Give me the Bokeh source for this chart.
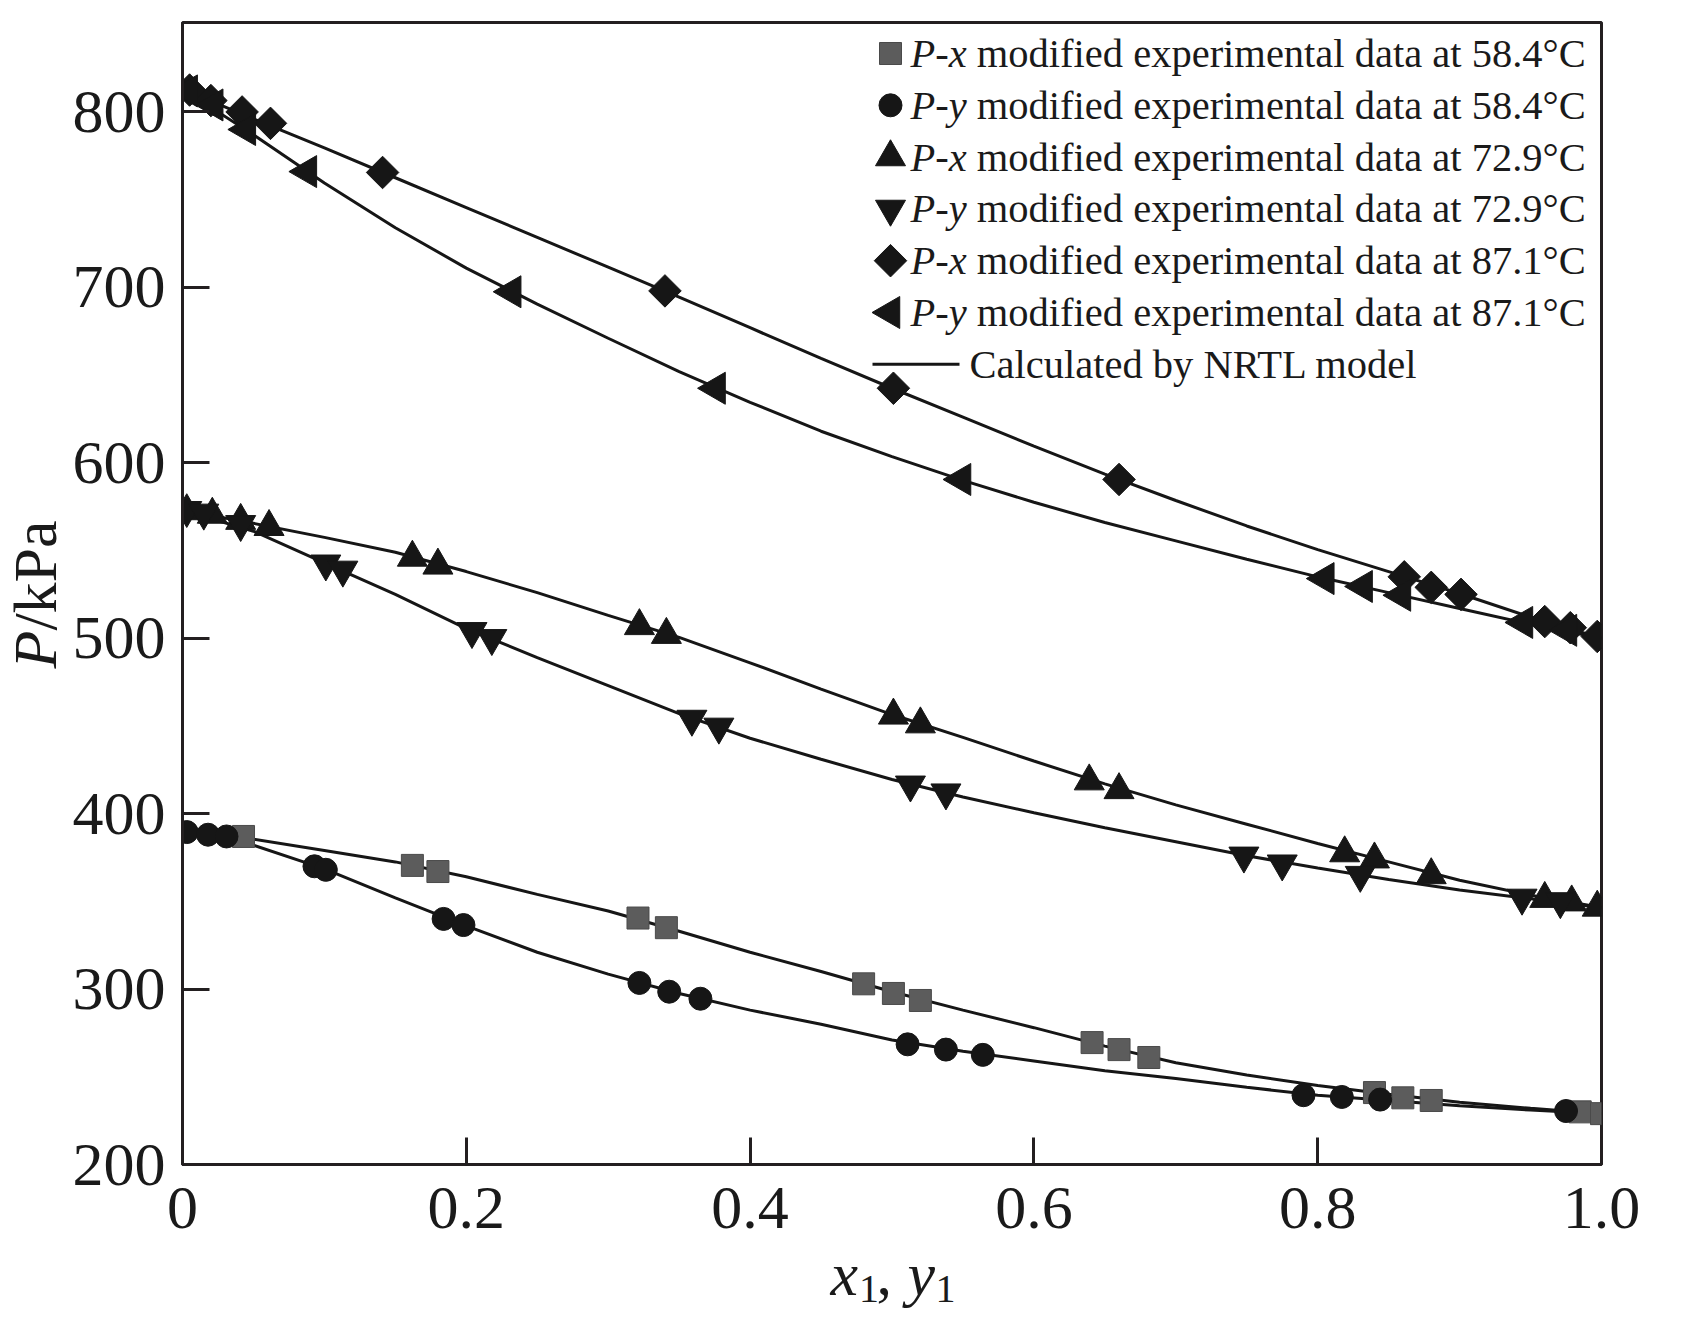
import numpy as np
from bokeh.plotting import figure
from bokeh.models import Range1d, FixedTicker, Label
from bokeh.core.properties import value
from bokeh.embed import file_html
from bokeh.resources import INLINE

# ---------------- data ----------------
# NRTL model curves
curve_x = [0, 0.05, 0.1, 0.15, 0.2, 0.25, 0.3, 0.35, 0.4, 0.45, 0.5,
           0.55, 0.6, 0.65, 0.7, 0.75, 0.8, 0.85, 0.9, 0.95, 1.0]
nrtl_px_58 = [390, 385.5, 379, 372.5, 364, 354, 344.5, 333, 321, 310, 298.5,
              288, 278, 267.5, 258, 251, 245, 240, 235.5, 232, 229]
nrtl_py_58 = [390, 382, 368.5, 352, 336, 321, 308.5, 297.5, 288, 280, 271,
              264.5, 259, 253.5, 249, 244, 239.5, 236.5, 233.5, 231, 229]
nrtl_px_73 = [573, 565.5, 557.5, 549, 538, 526, 513, 500.5, 486, 471, 456.5,
              443.5, 430, 417, 405, 394, 383, 372.5, 362, 353.5, 346.5]
nrtl_py_73 = [573, 561, 543, 525, 505.5, 489, 473, 457, 443, 431, 419.5,
              409.5, 400.5, 392, 384, 376, 369, 362.5, 356.5, 351.5, 346.5]
nrtl_px_87 = [813, 796, 779.5, 762.5, 745.5, 728.5, 711.5, 694.5, 677, 659.5, 642.5,
              626, 609.5, 593.5, 578.5, 564, 550.5, 538, 525.5, 512, 500]
nrtl_py_87 = [813, 787, 759.5, 734, 711, 690.5, 671, 652, 634.5, 618, 603.5,
              590, 577.5, 566, 555.5, 545, 535, 526, 517, 508, 500]

# modified experimental data
px58_x = [0.043, 0.162, 0.180, 0.321, 0.341, 0.480, 0.501, 0.520, 0.641, 0.660,
          0.681, 0.840, 0.860, 0.880, 0.985, 1.0]
px58_p = [387, 370.5, 367, 340.5, 335, 303, 297.5, 293.5, 269.5, 265.5,
          261, 241, 238, 236.5, 230, 229]
py58_x = [0.003, 0.018, 0.031, 0.093, 0.101, 0.184, 0.198, 0.322, 0.343, 0.365,
          0.511, 0.538, 0.564, 0.790, 0.817, 0.844, 0.975]
py58_p = [389.5, 388, 387, 370, 368, 340, 336.5, 303.5, 298.5, 294.5,
          268.5, 265.5, 262.5, 239.5, 238.5, 237, 230.5]
px73_x = [0.003, 0.021, 0.041, 0.061, 0.162, 0.180, 0.322, 0.341, 0.501, 0.520,
          0.639, 0.660, 0.819, 0.840, 0.880, 0.960, 0.979, 0.997]
px73_p = [572.5, 570.5, 567, 563.5, 546, 541.5, 507, 502, 456, 451,
          418.5, 413.5, 377.5, 374, 365, 351.5, 349.5, 346.5]
py73_x = [0.003, 0.015, 0.041, 0.101, 0.113, 0.204, 0.218, 0.359, 0.378, 0.513,
          0.538, 0.748, 0.775, 0.830, 0.944, 0.971]
py73_p = [573, 571.5, 565, 542.5, 539, 504, 500, 454, 449.5, 416.5,
          412, 376, 371.5, 365, 352, 350]
px87_x = [0.005, 0.020, 0.042, 0.062, 0.141, 0.340, 0.501, 0.660, 0.861, 0.880,
          0.901, 0.960, 0.978, 0.997]
px87_p = [812.5, 806.5, 800, 793.5, 765.5, 698, 642.5, 590.5, 535, 529,
          525, 509.5, 506, 501]
py87_x = [0.004, 0.022, 0.045, 0.088, 0.232, 0.376, 0.549, 0.805, 0.832, 0.859,
          0.945, 0.976]
py87_p = [812, 804, 790, 766, 697.5, 642.5, 590.5, 534, 529.5, 524.5,
          509, 504.5]

x_ticks = [0, 0.2, 0.4, 0.6, 0.8, 1.0]
x_tick_labels = ["0", "0.2", "0.4", "0.6", "0.8", "1.0"]
y_ticks = [200, 300, 400, 500, 600, 700, 800]

legend_var = ["x", "y", "x", "y", "x", "y"]
legend_rest = ["modified experimental data at 58.4\u00b0C",
               "modified experimental data at 58.4\u00b0C",
               "modified experimental data at 72.9\u00b0C",
               "modified experimental data at 72.9\u00b0C",
               "modified experimental data at 87.1\u00b0C",
               "modified experimental data at 87.1\u00b0C"]
line_label = "Calculated by NRTL model"

# ---------------- layout ----------------
W, H = 1685, 1311
FL, FT, FR, FB = 182, 22, 1601, 1164   # frame edges in picture pixels
XMIN, XMAX, YMIN, YMAX = 0.0, 1.0, 200.0, 851.0
FONT = "Liberation Serif"
AX = "#231f20"
BLK = "#161616"
GRAY = "#5c5c5c"
TXT = "#1a1a1a"
BL_FIX = 13  # empirical baseline correction


def dx(px):
    return XMIN + (px - FL) / (FR - FL) * (XMAX - XMIN)


def dy(py):
    return YMIN + (FB - py) / (FB - FT) * (YMAX - YMIN)


p = figure(width=W, height=H, title=None,
           x_range=Range1d(XMIN, XMAX), y_range=Range1d(YMIN, YMAX),
           output_backend="svg", toolbar_location=None,
           min_border_left=FL, min_border_top=FT,
           min_border_right=W - FR, min_border_bottom=H - FB)
p.background_fill_color = "white"
p.border_fill_color = "white"
p.xgrid.visible = False
p.ygrid.visible = False
p.outline_line_color = AX
p.outline_line_width = 3
p.outline_line_alpha = 1.0

p.xaxis.ticker = FixedTicker(ticks=x_ticks)
p.xaxis.major_label_overrides = {t: s for t, s in zip(x_ticks, x_tick_labels)}
p.yaxis.ticker = FixedTicker(ticks=y_ticks)
for ax in (p.xaxis[0], p.yaxis[0]):
    ax.axis_line_color = AX
    ax.axis_line_width = 3
    ax.major_tick_line_color = AX
    ax.major_tick_line_width = 3
    ax.major_tick_in = 27
    ax.major_tick_out = 0
    ax.minor_tick_line_color = None
    ax.major_label_text_font = FONT
    ax.major_label_text_font_size = "62px"
    ax.major_label_text_color = TXT
p.xaxis.major_label_standoff = 23
p.yaxis.major_label_standoff = 17

# model curves
for yy in (nrtl_px_58, nrtl_py_58, nrtl_px_73, nrtl_py_73, nrtl_px_87, nrtl_py_87):
    p.line(curve_x, yy, line_color=BLK, line_width=3)

# marker styles
styles = [
    dict(marker="square", size=22, fill_color=GRAY, line_color="#4a4a4a", angle=0.0),
    dict(marker="circle", size=23, fill_color=BLK, line_color=BLK, angle=0.0),
    dict(marker="triangle", size=30, fill_color=BLK, line_color=BLK, angle=0.0),
    dict(marker="inverted_triangle", size=30, fill_color=BLK, line_color=BLK, angle=0.0),
    dict(marker="square", size=23, fill_color=BLK, line_color=BLK, angle=np.pi / 4),
    dict(marker="triangle", size=32, fill_color=BLK, line_color=BLK, angle=np.pi / 2),
]
series = [(px58_x, px58_p), (py58_x, py58_p), (px73_x, px73_p),
          (py73_x, py73_p), (px87_x, px87_p), (py87_x, py87_p)]
for (xs, ys), st in zip(series, styles):
    p.scatter(xs, ys, **st)

# ---------------- legend (custom, mixed italics) ----------------
LFS = 40.5
base0, step = 66.0, 51.8
mk_x, txt_x = 890.0, 910.0
for i, st in enumerate(styles):
    b = base0 + i * step
    p.scatter([dx(mk_x)], [dy(b - 13)], **st)
    pieces = [("P", "italic", 0.0), ("-", "normal", 0.611),
              (legend_var[i], "italic", 0.944), (legend_rest[i], "normal", 1.638)]
    for txt, style, off in pieces:
        p.add_layout(Label(x=dx(txt_x + off * LFS), y=dy(b - BL_FIX), text=txt,
                           text_font=FONT, text_font_size=f"{LFS}px",
                           text_font_style=style, text_color=TXT,
                           text_align="left", text_baseline="alphabetic"))
b = base0 + 6 * step
p.line([dx(872), dx(959)], [dy(b - 13), dy(b - 13)], line_color=BLK, line_width=3)
p.add_layout(Label(x=dx(969), y=dy(b - BL_FIX), text=line_label, text_font=FONT,
                   text_font_size=f"{LFS}px", text_color=TXT,
                   text_align="left", text_baseline="alphabetic"))

# ---------------- axis titles (text glyphs on overlay level, not clipped) ----------------
AFS = 62
SFS = 40


def title_text(txt, X, Y, fs, style, angle=0.0):
    p.text(x=[dx(X)], y=[dy(Y)], text=[txt], angle=angle,
           text_font=value(FONT), text_font_size=value(f"{fs}px"),
           text_font_style=style, text_color=TXT,
           text_align="left", text_baseline="alphabetic", level="overlay")


# y title: P/kPa (rotated)
title_text("P", 47.5 - BL_FIX, 668, AFS, "italic", np.pi / 2)
title_text("/kPa", 47.5 - BL_FIX, 668 - 0.611 * AFS, AFS, "normal", np.pi / 2)
# x title: x1, y1
title_text("x", 830, 1286 - BL_FIX, AFS, "italic")
title_text("1", 858.5, 1301 - BL_FIX, SFS, "normal")
title_text(",", 876, 1286 - BL_FIX, AFS, "normal")
title_text("y", 907, 1286 - BL_FIX, AFS, "italic")
title_text("1", 935, 1301 - BL_FIX, SFS, "normal")

open("out.html", "w").write(file_html(p, INLINE))
